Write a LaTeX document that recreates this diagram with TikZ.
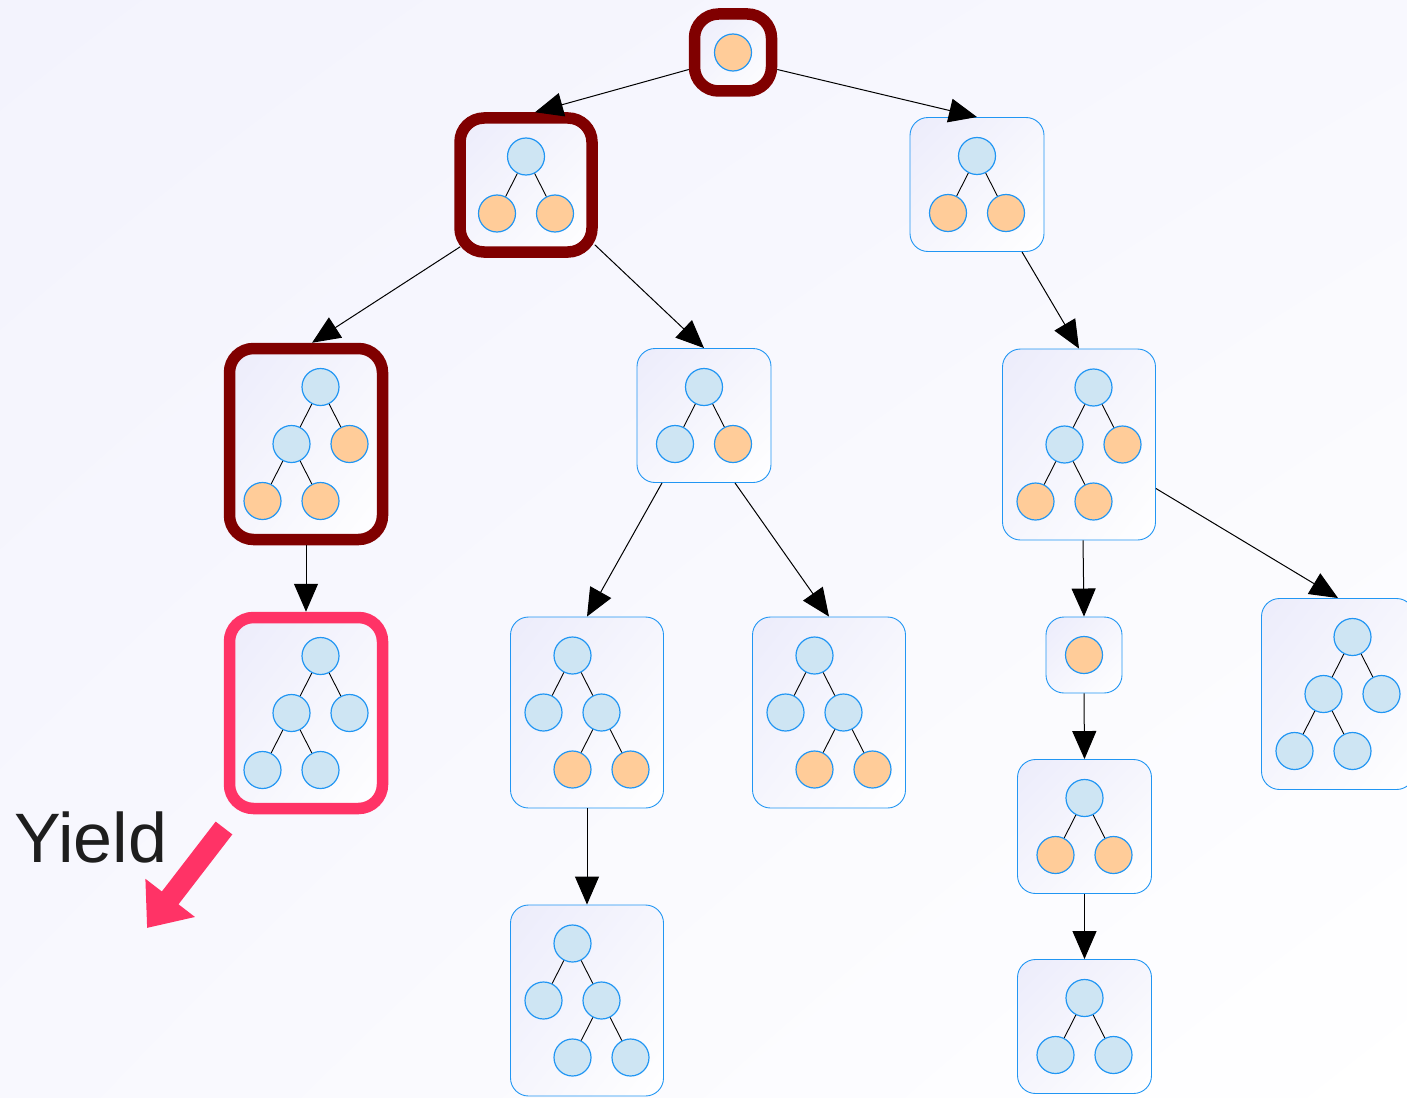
\documentclass[tikz,border=0pt]{standalone}
\usepackage{fontspec}
\setmainfont{Liberation Sans}
\usetikzlibrary{arrows.meta, positioning, shadings}
\usepackage{xcolor}
\definecolor{done}{RGB}{206,229,243}
\definecolor{hole}{RGB}{255,204,153}
\definecolor{rim}{RGB}{33,150,243}
\definecolor{boxtint}{RGB}{236,236,251}
\definecolor{bgtint}{RGB}{243,243,253}
\definecolor{bgmid}{RGB}{248,248,254}
\definecolor{deepred}{RGB}{128,0,0}
\definecolor{hot}{RGB}{255,51,102}
\definecolor{ink}{RGB}{30,30,30}
\def\hstep{29}
\def\vstep{57}

% mini trees inside a box, #1 = box name, then the fills top down
\newcommand{\onetree}[2]{%
    \node[ball, fill=#2] (#1-r) at (#1) {};}
\newcommand{\twotree}[4]{%
  \begin{scope}[shift={(#1.center)}]
    \node[ball, fill=#2] (#1-r) at (0,-\vstep/2) {};
    \node[ball, fill=#3] (#1-a) at (-\hstep,\vstep/2) {};
    \node[ball, fill=#4] (#1-b) at (\hstep,\vstep/2) {};
    \draw[twig] (#1-r) -- (#1-a) (#1-r) -- (#1-b);
  \end{scope}}
\newcommand{\lefttree}[6]{%
  \begin{scope}[shift={(#1.center)}]
    \node[ball, fill=#2] (#1-r) at (\hstep/2,-\vstep) {};
    \node[ball, fill=#3] (#1-a) at (-\hstep/2,0) {};
    \node[ball, fill=#4] (#1-b) at (1.5*\hstep,0) {};
    \node[ball, fill=#5] (#1-aa) at (-1.5*\hstep,\vstep) {};
    \node[ball, fill=#6] (#1-ab) at (\hstep/2,\vstep) {};
    \draw[twig] (#1-r) -- (#1-a) (#1-r) -- (#1-b) (#1-a) -- (#1-aa) (#1-a) -- (#1-ab);
  \end{scope}}
\newcommand{\righttree}[6]{%
  \begin{scope}[shift={(#1.center)}]
    \node[ball, fill=#2] (#1-r) at (-\hstep/2,-\vstep) {};
    \node[ball, fill=#3] (#1-a) at (-1.5*\hstep,0) {};
    \node[ball, fill=#4] (#1-b) at (\hstep/2,0) {};
    \node[ball, fill=#5] (#1-ba) at (-\hstep/2,\vstep) {};
    \node[ball, fill=#6] (#1-bb) at (1.5*\hstep,\vstep) {};
    \draw[twig] (#1-r) -- (#1-a) (#1-r) -- (#1-b) (#1-b) -- (#1-ba) (#1-b) -- (#1-bb);
  \end{scope}}

\begin{document}
\begin{tikzpicture}[x=1pt, y=-1pt]
    \tikzstyle{box}=[rectangle, rounded corners=18, inner sep=0pt, draw=rim, line width=0.9,
        upper left=boxtint, upper right=boxtint!50!white, lower left=boxtint!50!white, lower right=white]
    \tikzstyle{stack}=[box, rounded corners=24, draw=deepred, line width=11.5]
    \tikzstyle{now}=[box, rounded corners=24, draw=hot, line width=11.5]
    \tikzstyle{lv1}=[minimum width=76, minimum height=76]
    \tikzstyle{lv2}=[minimum width=134, minimum height=134]
    \tikzstyle{lv3}=[minimum width=153, minimum height=191]
    \tikzstyle{ball}=[circle, minimum size=37, inner sep=0pt, draw=rim, line width=1.2]
    \tikzstyle{twig}=[draw=black, line width=0.9]
    \tikzstyle{link}=[draw=black, line width=1, -{Triangle[length=28pt,width=24pt]}]
    \tikzstyle{yield}=[draw=hot, line width=21, -{Triangle[length=38pt,width=60pt]}]

    \useasboundingbox (0,0) rectangle (1407,1097);
    \clip (0,0) rectangle (1407,1097);
    \shade[upper left=bgtint, upper right=bgmid, lower left=bgmid, lower right=white]
        (0,0) rectangle (1407,1097);

    % Draw the search tree boxes, layer by layer
    \node[stack, lv1, minimum width=77, minimum height=77] (R) at (733,52.5) {};
    \node[stack, minimum width=132, minimum height=134] (N1-1) at (526,185) {};
    \node[box, lv2] (N1-2) at (977,184.5) {};
    \node[stack, lv3] (N2-1) at (306,444) {};
    \node[box, lv2] (N2-2) at (704,415.5) {};
    \node[box, lv3] (N2-3) at (1079,444.5) {};
    \node[now, lv3] (N3-1) at (306,713) {};
    \node[box, lv3] (N3-2) at (587,712.5) {};
    \node[box, lv3] (N3-3) at (829,712.5) {};
    \node[box, lv1] (N3-4) at (1084,655) {};
    \node[box, lv3] (N3-5) at (1338,694) {};
    \node[box, lv3] (N4-1) at (587,1000.5) {};
    \node[box, lv2] (N4-2) at (1084.5,826.5) {};
    \node[box, lv2] (N5-1) at (1084.5,1026.5) {};

    % Fill in the partial trees
    \onetree{R}{hole}
    \twotree{N1-1}{done}{hole}{hole}
    \twotree{N1-2}{done}{hole}{hole}
    \lefttree{N2-1}{done}{done}{hole}{hole}{hole}
    \twotree{N2-2}{done}{done}{hole}
    \lefttree{N2-3}{done}{done}{hole}{hole}{hole}
    \lefttree{N3-1}{done}{done}{done}{done}{done}
    \righttree{N3-2}{done}{done}{done}{hole}{hole}
    \righttree{N3-3}{done}{done}{done}{hole}{hole}
    \onetree{N3-4}{hole}
    \lefttree{N3-5}{done}{done}{done}{done}{done}
    \righttree{N4-1}{done}{done}{done}{done}{done}
    \twotree{N4-2}{done}{hole}{hole}
    \twotree{N5-1}{done}{done}{done}

    % Connect the boxes
    \draw[link] ([yshift=-17pt]R.west) -- ([xshift=9pt]N1-1.north);
    \draw[link] ([yshift=-17pt]R.east) -- (N1-2.north);
    \draw[link] ([shift={(6,-11)}]N1-1.south west) -- ([xshift=6pt]N2-1.north);
    \draw[link] ([shift={(-3,-13)}]N1-1.south east) -- (N2-2.north);
    \draw[link] ([xshift=45pt]N1-2.south) -- (N2-3.north);
    \draw[link] ([xshift=-42pt]N2-2.south) -- (N3-2.north);
    \draw[link] ([xshift=31pt]N2-2.south) -- (N3-3.north);
    \draw[link] ([xshift=4pt]N2-3.south) -- (N3-4.north);
    \draw[link] ([yshift=-44pt]N2-3.east) -- (N3-5.north);
    \foreach \source / \dest in {N2-1/N3-1, N3-2/N4-1, N3-4/N4-2, N4-2/N5-1}
        \draw[link] (\source.south) -- (\dest.north);

    % Annotate the yield
    \node[anchor=base west, inner sep=0pt, text=ink, font=\fontsize{70}{80}\selectfont] (yt) at (14,862) {Yield};
    \coordinate (y0) at (224,828);
    \coordinate (y1) at (147,928);
    \draw[yield] (y0) -- (y1);
\end{tikzpicture}
\end{document}
